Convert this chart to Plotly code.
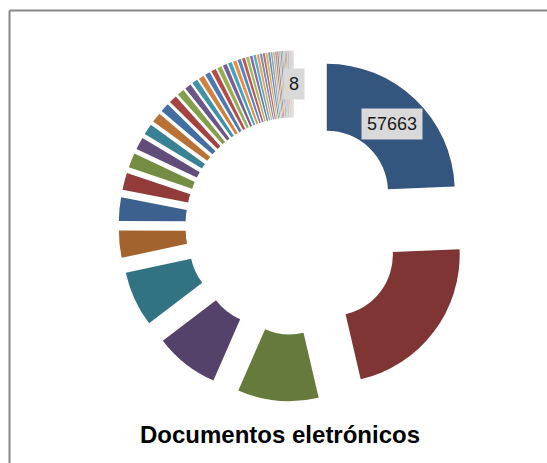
import math
import plotly.graph_objects as go

# Number of electronic documents per category, largest first
documentos = [
    57663, 52210, 24190, 19170, 16520, 8130, 7010, 5160, 4360, 3700,
    3305, 2975, 2645, 2380, 2115, 1917, 1719, 1586, 1560, 1440,
    1330, 1230, 1140, 1060, 990, 920, 850, 790, 740, 695,
    655, 615, 575, 540, 500, 465, 430, 395, 362, 330,
    302, 278, 255, 233, 212, 192, 172, 154, 137, 121,
    106, 93, 80, 68, 57, 47, 38, 30, 23, 17,
    12, 8,
]
categorias = [f"Categoria {i + 1}" for i in range(len(documentos))]
titulo = "Documentos eletrónicos"

# Office-style accent palette, cycled with progressive shade -> tint
accents = ["#4F81BD", "#C0504D", "#9BBB59", "#8064A2", "#4BACC6", "#F79646"]


def variant(hex_color, t):
    h = hex_color.lstrip("#")
    rgb = [int(h[i:i + 2], 16) for i in (0, 2, 4)]
    if t < 0:
        rgb = [c * (1 + t) for c in rgb]
    else:
        rgb = [c + (255 - c) * t for c in rgb]
    return "#" + "".join(f"{int(round(c)):02X}" for c in rgb)


cores = [variant(accents[i % 6], -0.34 + 0.095 * (i // 6)) for i in range(len(documentos))]

# Layout geometry (pixels)
W, H = 547, 463
cx, cy = 294, 226          # pie centre
R = 128                    # outer radius
hole = 0.478
pull = 0.37
box = 2 * R * (1 + pull)   # plotly shrinks the pie to fit the pulled slices

dom_x = [(cx - box / 2) / W, (cx + box / 2) / W]
dom_y = [1 - (cy + box / 2) / H, 1 - (cy - box / 2) / H]

fig = go.Figure(
    go.Pie(
        labels=categorias,
        values=documentos,
        hole=hole,
        pull=[pull] * len(documentos),
        sort=False,
        direction="clockwise",
        rotation=0,
        marker=dict(colors=cores, line=dict(color="white", width=0)),
        textinfo="none",
        hoverinfo="label+value",
        showlegend=False,
        domain=dict(x=dom_x, y=dom_y),
    )
)

# Value labels on the first and last slices, placed mid-ring on each slice's bisector
total = sum(documentos)
cum = [0]
for v in documentos:
    cum.append(cum[-1] + v)
dist = pull * R + R * (1 + hole) / 2
annotations = []
for i in (0, len(documentos) - 1):
    ang = math.radians(360 * (cum[i] + documentos[i] / 2) / total)
    px = cx + dist * math.sin(ang)
    py = cy - dist * math.cos(ang)
    annotations.append(dict(
        x=px / W, y=1 - py / H, xref="paper", yref="paper",
        text=str(documentos[i]), showarrow=False,
        font=dict(family="Liberation Sans, Arial", size=18, color="#1a1a1a"),
        bgcolor="#D9D9D9", borderpad=5, xanchor="center", yanchor="middle",
    ))

annotations.append(dict(
    x=280 / W, y=1 - 434 / H, xref="paper", yref="paper",
    text=f"<b>{titulo}</b>", showarrow=False,
    font=dict(family="Liberation Sans, Arial", size=24, color="black"),
    xanchor="center", yanchor="middle",
))

# Chart-area frame (top and left edges)
frame = dict(color="#878787", width=2)
shapes = [
    dict(type="line", xref="paper", yref="paper",
         x0=9.5 / W, x1=1.05, y0=1 - 10.5 / H, y1=1 - 10.5 / H, line=frame),
    dict(type="line", xref="paper", yref="paper",
         x0=9.5 / W, x1=9.5 / W, y0=1 - 10.5 / H, y1=-0.05, line=frame),
]

fig.update_layout(
    width=W, height=H,
    margin=dict(l=0, r=0, t=0, b=0),
    paper_bgcolor="white", plot_bgcolor="white",
    annotations=annotations, shapes=shapes,
)

fig.write_html("out.html")
